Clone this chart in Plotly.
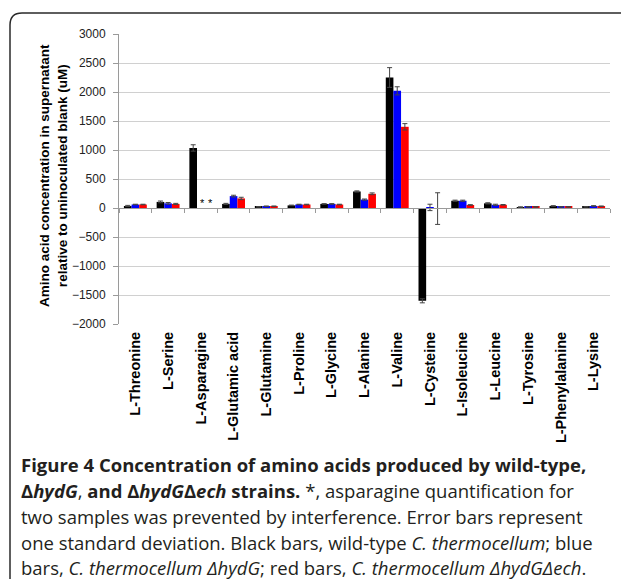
import plotly.graph_objects as go

categories = ["L-Threonine", "L-Serine", "L-Asparagine", "L-Glutamic acid", "L-Glutamine",
              "L-Proline", "L-Glycine", "L-Alanine", "L-Valine", "L-Cysteine",
              "L-Isoleucine", "L-Leucine", "L-Tyrosine", "L-Phenylalanine", "L-Lysine"]

wild_type = [35, 105, 1035, 70, 20, 45, 70, 285, 2250, -1600, 125, 80, 15, 35, 20]
wild_type_err = [10, 15, 55, 10, 5, 5, 5, 10, 170, 35, 10, 10, 5, 5, 5]

hydG = [60, 80, None, 205, 30, 60, 70, 145, 2020, 10, 125, 55, 20, 20, 35]
hydG_err = [5, 15, None, 15, 5, 5, 5, 10, 70, 55, 10, 10, 5, 5, 5]

hydG_ech = [60, 70, None, 165, 30, 60, 60, 245, 1400, -10, 52, 55, 20, 20, 30]
hydG_ech_err = [5, 10, None, 20, 5, 5, 5, 15, 55, 273, 5, 5, 5, 5, 5]

y_ticks = [3000, 2500, 2000, 1500, 1000, 500, 0, -500, -1000, -1500, -2000]
missing_marker = "*"

W, H = 621, 579
L, R, T, B = 119, 11, 34, 255
PW, PH = W - L - R, H - T - B


def px(xp):
    return (xp - L) / PW


def py(yp):
    return (H - B - yp) / PH


fig = go.Figure()
series = [("Wild-type", wild_type, wild_type_err, "#000000"),
          ("ΔhydG", hydG, hydG_err, "#0000FF"),
          ("ΔhydGΔech", hydG_ech, hydG_ech_err, "#FF0000")]
for name, vals, errs, col in series:
    fig.add_trace(go.Bar(
        x=categories, y=vals, name=name,
        marker=dict(color=col, line=dict(width=0)),
        error_y=dict(type="data", array=errs, visible=True, color="#444444",
                     thickness=1, width=2.5),
    ))

# invisible trace on overlay axis for zero-line category ticks
fig.add_trace(go.Scatter(x=[-0.5, len(categories) - 0.5], y=[0, 0], xaxis="x2",
                         mode="lines", line=dict(width=0), hoverinfo="skip",
                         showlegend=False))

fig.update_layout(
    width=W, height=H,
    margin=dict(l=L, r=R, t=T, b=B),
    paper_bgcolor="white", plot_bgcolor="white",
    barmode="group", bargap=0.3, bargroupgap=0,
    showlegend=False,
    xaxis=dict(
        type="category", categoryorder="array", categoryarray=categories,
        tickangle=-90, showgrid=False, showline=False, ticks="",
        tickfont=dict(family="Liberation Sans, Arial", size=14.5, color="#000000", weight="bold"),
        ticklabelstandoff=4,
    ),
    xaxis2=dict(
        overlaying="x", anchor="free", position=2000 / 5000,
        range=[-0.5, len(categories) - 0.5],
        tickvals=[i - 0.5 for i in range(len(categories) + 1)],
        showticklabels=False, ticks="outside", ticklen=4, tickcolor="#9a9a9a",
        showline=True, linecolor="#9a9a9a", linewidth=1, showgrid=False, zeroline=False,
    ),
    yaxis=dict(
        range=[-2000, 3000], tickvals=y_ticks,
        showgrid=True, gridcolor="#d0d0d0", gridwidth=1,
        zeroline=False,
        showline=True, linecolor="#9a9a9a", linewidth=1,
        ticks="outside", ticklen=5, tickcolor="#9a9a9a",
        tickfont=dict(family="Liberation Sans, Arial", size=12, color="#222222"),
        ticklabelstandoff=5,
    ),
)

# asterisks for missing asparagine values
ai = categories.index("L-Asparagine")
for k, vals in ((1, hydG), (2, hydG_ech)):
    if vals[ai] is None:
        fig.add_annotation(x=categories[ai], y=0, xref="x", yref="y",
                           text=missing_marker, showarrow=False,
                           xanchor="center", yanchor="bottom",
                           xshift=(k - 1) * 7.64 + 2, yshift=-3,
                           font=dict(family="Liberation Sans, Arial", size=11, color="#000000"))

# y-axis title
fig.add_annotation(
    x=px(53), y=py(176), xref="paper", yref="paper",
    text="<b>Amino acid concentration in supernatant<br>relative to uninoculated blank (uM)</b>",
    textangle=-90, showarrow=False, xanchor="center", yanchor="middle",
    font=dict(family="Liberation Sans, Arial", size=13.5, color="#000000"),
)

# rounded frame (partial, clipped by page edges)
x0, x1 = px(10), px(640)
yt, yb = py(13), py(600)
rx, ry = 12 / PW, 12 / PH
fig.add_shape(type="path", xref="paper", yref="paper",
              path=f"M {x0},{yb} L {x0},{yt - ry} Q {x0},{yt} {x0 + rx},{yt} L {x1},{yt}",
              line=dict(color="#2a2a2a", width=1.5))

caption = [
    ("<b>Figure 4 Concentration of amino acids produced by wild-type,</b>", 464),
    ("<b>Δ<i>hydG</i></b>, <b>and Δ<i>hydG</i>Δ<i>ech</i> strains.</b> *, asparagine quantification for", 490),
    ("two samples was prevented by interference. Error bars represent", 516),
    ("one standard deviation. Black bars, wild-type <i>C. thermocellum</i>; blue", 542),
    ("bars, <i>C. thermocellum ΔhydG</i>; red bars, <i>C. thermocellum ΔhydGΔech</i>.", 567),
]
for txt, yc in caption:
    fig.add_annotation(x=px(19), y=py(yc), xref="paper", yref="paper", text=txt,
                       showarrow=False, xanchor="left", yanchor="middle",
                       font=dict(family="Open Sans", size=18.5, color="#231f20"))

fig.write_html("out.html", config={"displayModeBar": False},
               post_script="document.body.style.margin='0px';document.body.style.overflow='hidden';")
